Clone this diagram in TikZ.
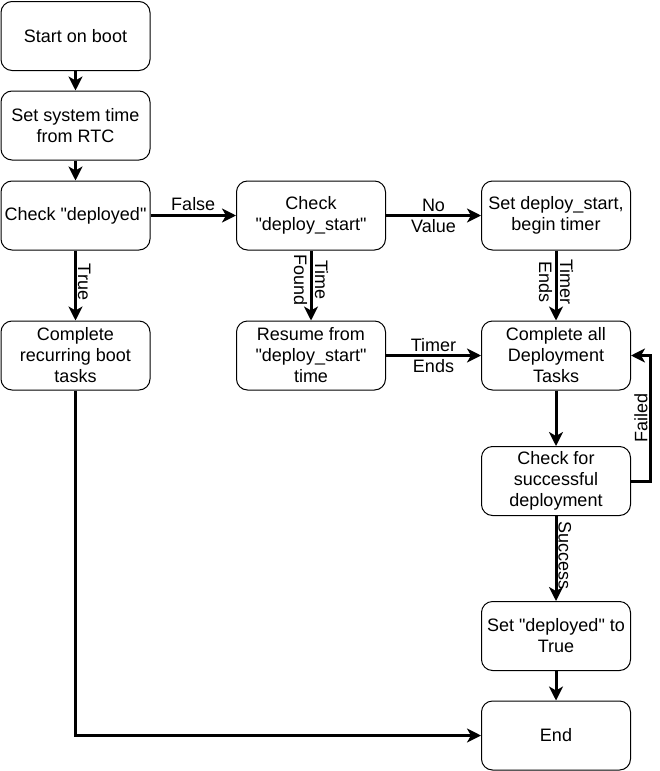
\documentclass[tikz,border=0pt]{standalone}
\usepackage{fontspec}
\setmainfont{Liberation Sans}[Ligatures=TeXOff]
\usetikzlibrary{arrows.meta}
\begin{document}
\begin{tikzpicture}[x=1pt,y=-1pt,
  box/.style={draw, rounded corners=11pt, line width=1pt, minimum width=149pt, minimum height=69pt,
              inner sep=0pt, align=center, font=\fontsize{18}{21}\selectfont},
  flow/.style={line width=3pt, -{Stealth[length=14pt,width=14pt,inset=4pt]}},
  lbl/.style={font=\fontsize{18}{21}\selectfont, align=center, inner sep=1pt}]
\useasboundingbox (0,0) rectangle (660,771);

\node[box] (start)   at (75.5,36)    {Start on boot};
\node[box] (settime) at (75.5,125.5) {Set system time\\from RTC};
\node[box] (chkdep)  at (75.5,215.5) {Check "deployed"};
\node[box] (recur)   at (75.5,355.5) {Complete\\recurring boot\\tasks};
\node[box] (chkds)   at (311,215.5)  {Check\\"deploy\_start"};
\node[box] (resume)  at (311,355.5)  {Resume from\\"deploy\_start"\\time};
\node[box] (setds)   at (556,215.5)  {Set deploy\_start,\\begin timer};
\node[box] (all)     at (556,355.5)  {Complete all\\Deployment\\Tasks};
\node[box] (chks)    at (556,481)    {Check for\\successful\\deployment};
\node[box] (setdep)  at (556,636)    {Set "deployed" to\\True};
\node[box] (endn)    at (556,735.5)  {End};

\draw[flow] (start) -- (settime);
\draw[flow] (settime) -- (chkdep);
\draw[flow] (chkdep) -- node[lbl, anchor=south, yshift=2pt] {False} (chkds);
\draw[flow] (chkdep) -- node[lbl, pos=0.45, rotate=-90, anchor=south] {True} (recur);
\draw[flow] (chkds) -- node[lbl] {No\\Value} (setds);
\draw[flow] (chkds) -- node[lbl, pos=0.42, rotate=-90] {Time\\Found} (resume);
\draw[flow] (setds) -- node[lbl, pos=0.45, rotate=-90] {Timer\\Ends} (all);
\draw[flow] (resume) -- node[lbl] {Timer\\Ends} (all);
\draw[flow] (all) -- (chks);
\draw[flow] (chks.east) -- ++(19,0) |- node[lbl, pos=0.25, rotate=90, anchor=south] {Failed} (all.east);
\draw[flow] (chks) -- node[lbl, pos=0.47, rotate=-90, anchor=south] {Success} (setdep);
\draw[flow] (setdep) -- (endn);
\draw[flow] (recur.south) |- (endn.west);
\end{tikzpicture}
\end{document}
